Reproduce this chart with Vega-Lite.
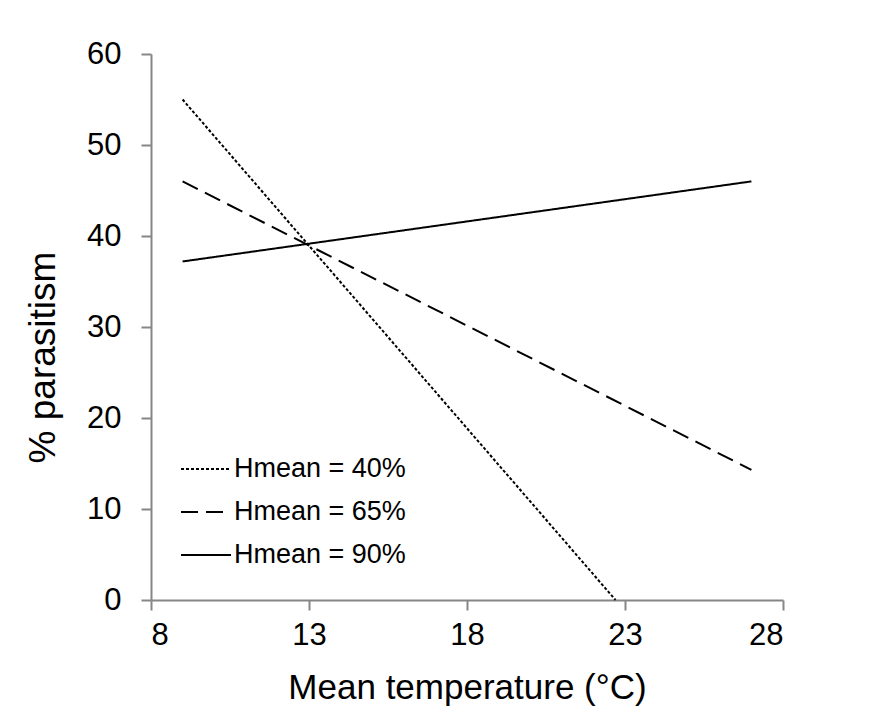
{
  "$schema": "https://vega.github.io/schema/vega-lite/v6.json",
  "autosize": "none",
  "width": 632,
  "height": 546,
  "padding": {"left": 151, "top": 54, "right": 88, "bottom": 124},
  "background": "white",
  "config": {
    "view": {"stroke": null},
    "font": "Liberation Sans"
  },
  "data": {
    "values": [
      {"temp": 9, "pct": 55, "series": "Hmean = 40%"},
      {"temp": 22.7, "pct": 0, "series": "Hmean = 40%"},
      {"temp": 9, "pct": 46, "series": "Hmean = 65%"},
      {"temp": 27, "pct": 14.3, "series": "Hmean = 65%"},
      {"temp": 9, "pct": 37.2, "series": "Hmean = 90%"},
      {"temp": 27, "pct": 46, "series": "Hmean = 90%"}
    ]
  },
  "mark": {"type": "line", "color": "black", "strokeWidth": 2},
  "encoding": {
    "x": {
      "field": "temp", "type": "quantitative",
      "scale": {"domain": [8, 28], "nice": false, "zero": false},
      "axis": {
        "values": [8, 13, 18, 23, 28], "grid": false,
        "title": "Mean temperature (°C)", "titleFontSize": 35, "titleFontWeight": "normal",
        "titleColor": "black", "titlePadding": 20,
        "labelFontSize": 31, "labelColor": "black", "labelPadding": 10,
        "domainColor": "#868686", "domainWidth": 2, "tickColor": "#868686", "tickWidth": 2, "tickSize": 10
      }
    },
    "y": {
      "field": "pct", "type": "quantitative",
      "scale": {"domain": [0, 60], "nice": false},
      "axis": {
        "values": [0, 10, 20, 30, 40, 50, 60], "grid": false,
        "title": "% parasitism", "titleFontSize": 37, "titleFontWeight": "normal",
        "titleColor": "black", "titlePadding": 24, "titleY": 303,
        "labelFontSize": 31, "labelColor": "black", "labelPadding": 20,
        "domainColor": "#868686", "domainWidth": 2, "tickColor": "#868686", "tickWidth": 2, "tickSize": 10
      }
    },
    "strokeDash": {
      "field": "series", "type": "nominal",
      "scale": {"domain": ["Hmean = 40%", "Hmean = 65%", "Hmean = 90%"], "range": [[3, 2], [17, 8], [1, 0]]},
      "legend": {
        "title": null, "orient": "none", "legendX": 29, "legendY": 389,
        "symbolType": "stroke", "symbolSize": 2500, "symbolStrokeWidth": 2, "symbolStrokeColor": "black",
        "labelFontSize": 27, "labelColor": "black", "labelOffset": 2, "rowPadding": 4, "labelLimit": 400
      }
    }
  }
}
